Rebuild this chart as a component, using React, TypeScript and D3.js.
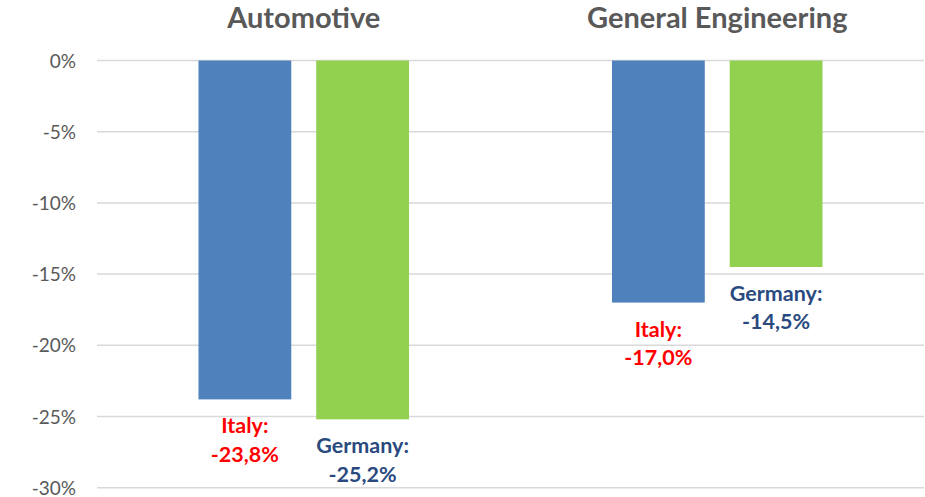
import React from "react";
import * as d3 from "d3";

const categories = ["Automotive", "General Engineering"];
const seriesNames = ["Italy", "Germany"];
const italyValues = [-23.8, -17.0];
const germanyValues = [-25.2, -14.5];
const yTicks = [0, -5, -10, -15, -20, -25, -30];

const W = 925;
const H = 497;
const colors: Record<string, string> = { Italy: "#4f81bd", Germany: "#92d050" };
const labelColors: Record<string, string> = { Italy: "#ff0000", Germany: "#2a4a7f" };

export default function App() {
  const x0 = d3.scaleBand<string>().domain(categories).range([97, 924]).paddingInner(0).paddingOuter(0);
  const x1 = d3
    .scaleBand<string>()
    .domain(seriesNames)
    .range([0, x0.bandwidth()])
    .paddingInner(0.212)
    .paddingOuter(0.862);
  const y = d3.scaleLinear().domain([-30, 0]).range([487.7, 60.5]);

  const values: Record<string, number[]> = { Italy: italyValues, Germany: germanyValues };
  const fmt = (v: number) => d3.format(".1f")(v).replace(".", ",").replace("−", "-") + "%";
  const font = "Lato, 'Open Sans', sans-serif";

  return (
    <svg
      width={W}
      height={H}
      style={{ position: "absolute", left: 0, top: 0, background: "#fff" }}
      fontFamily={font}
    >
      <rect x={0} y={0} width={W} height={H} fill="#fff" />
      {yTicks.map((t) => (
        <g key={t}>
          <line x1={97} x2={924} y1={y(t)} y2={y(t)} stroke="#d9d9d9" strokeWidth={1.5} />
          <text x={76} y={y(t) + 7} textAnchor="end" fontSize={19} fill="#595959">
            {`${t}%`}
          </text>
        </g>
      ))}
      {categories.map((c, ci) => (
        <g key={c} transform={`translate(${x0(c)},0)`}>
          <text
            x={x0.bandwidth() / 2}
            y={28}
            textAnchor="middle"
            fontSize={29}
            fontWeight={700}
            fill="#595959"
          >
            {c}
          </text>
          {seriesNames.map((s) => {
            const v = values[s][ci];
            const bx = x1(s)!;
            const bw = x1.bandwidth();
            return (
              <g key={s}>
                <rect x={bx} y={y(0)} width={bw} height={y(v) - y(0)} fill={colors[s]} />
                <text
                  x={bx + bw / 2}
                  y={y(v) + 34}
                  textAnchor="middle"
                  fontSize={21.5}
                  fontWeight={700}
                  fill={labelColors[s]}
                >
                  {`${s}:`}
                </text>
                <text
                  x={bx + bw / 2}
                  y={y(v) + 62.5}
                  textAnchor="middle"
                  fontSize={21.5}
                  fontWeight={700}
                  fill={labelColors[s]}
                >
                  {fmt(v)}
                </text>
              </g>
            );
          })}
        </g>
      ))}
    </svg>
  );
}
